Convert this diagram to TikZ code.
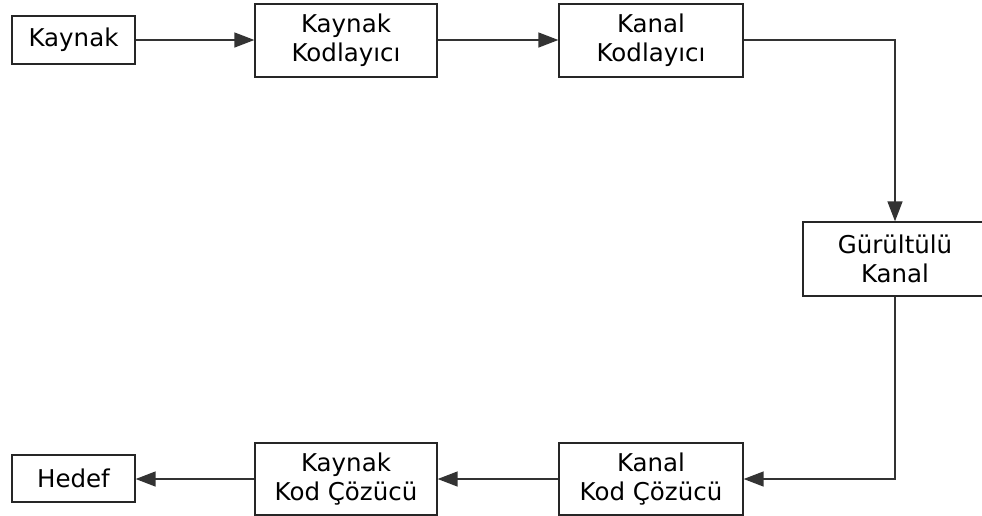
\documentclass[tikz,border=0pt]{standalone}
\usepackage{fontspec}
\setmainfont{DejaVu Sans}
\usetikzlibrary{arrows.meta}
\begin{document}
\begin{tikzpicture}[x=1pt,y=-1pt,
  blk/.style={draw=black!85, line width=1.3pt, fill=white, align=center, inner sep=0pt,
    font=\fontsize{24.5}{29}\selectfont},
  conn/.style={draw=black!80, line width=1.4pt, -{Triangle[length=20pt,width=15pt]}}]
\useasboundingbox (0,0) rectangle (982,515);
\clip (0,0) rectangle (982,515);
\node[blk, minimum width=123pt, minimum height=48pt] (src) at (73.5,40) {Kaynak};
\node[blk, minimum width=182pt, minimum height=73pt] (kk) at (346,40.5) {Kaynak\\Kodlay\i c\i};
\node[blk, minimum width=184pt, minimum height=73pt] (kanalk) at (651,40.5) {Kanal\\Kodlay\i c\i};
\node[blk, minimum width=184pt, minimum height=74pt] (gk) at (895,259) {Gürültülü\\Kanal};
\node[blk, minimum width=184pt, minimum height=72pt] (kkc) at (651,479) {Kanal\\Kod Çözücü};
\node[blk, minimum width=182pt, minimum height=72pt] (kyc) at (346,479) {Kaynak\\Kod Çözücü};
\node[blk, minimum width=123pt, minimum height=47pt] (hedef) at (73.5,478.5) {Hedef};
\draw[conn] (src.east) -- (kk.west |- src.east);
\draw[conn] (kk.east |- src.east) -- (kanalk.west |- src.east);
\draw[conn] (kanalk.east |- src.east) -| (gk.north);
\draw[conn] (gk.south) |- (kkc.east);
\draw[conn] (kkc.west) -- (kyc.east);
\draw[conn] (kyc.west) -- (hedef.east |- kyc.west);
\end{tikzpicture}
\end{document}
